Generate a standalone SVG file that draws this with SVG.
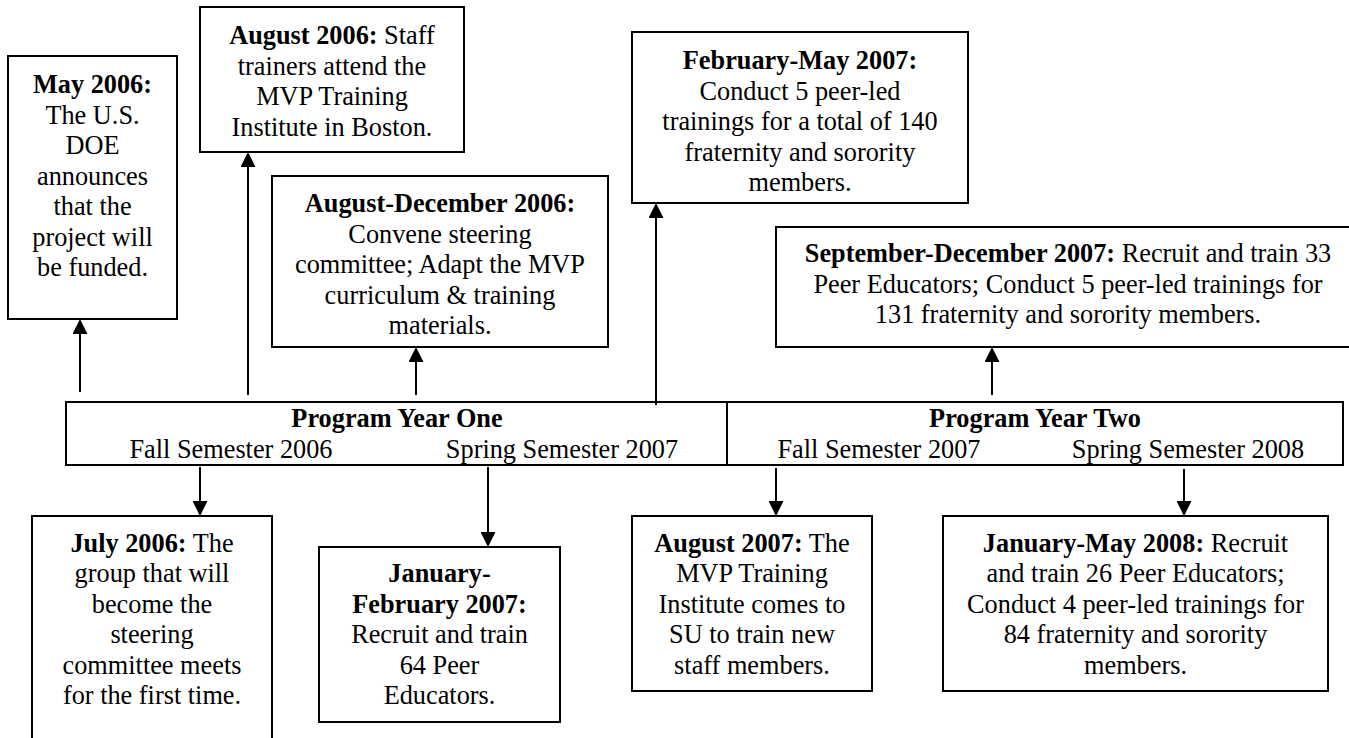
<svg xmlns="http://www.w3.org/2000/svg" width="1349" height="738" viewBox="0 0 1349 738">
  <style>
    .box { fill: #ffffff; stroke: #000000; stroke-width: 2; }
    .t { font-family: "Liberation Serif", "Times New Roman", serif; font-size: 26.3px; fill: #000000; text-anchor: middle; }
    .b { font-weight: bold; }
    .conn { stroke: #000000; stroke-width: 2; fill: none; }
  </style>
  <defs>
    <marker id="ah" markerUnits="userSpaceOnUse" markerWidth="15" markerHeight="15" viewBox="0 0 15 15" refX="1" refY="7.5" orient="auto">
      <path d="M0,0 L15,7.5 L0,15 Z" fill="#000000"/>
    </marker>
  </defs>
  <rect width="1349" height="738" fill="#ffffff"/>

  <g id="timeline">
    <rect class="box" x="66" y="402" width="1277" height="63"/>
    <line x1="727" y1="402" x2="727" y2="465" stroke="#000" stroke-width="2"/>
    <text class="t b" x="397" y="427">Program Year One</text>
    <text class="t" x="231" y="458">Fall Semester 2006</text>
    <text class="t" x="562" y="458">Spring Semester 2007</text>
    <text class="t b" x="1035" y="427">Program Year Two</text>
    <text class="t" x="879" y="458">Fall Semester 2007</text>
    <text class="t" x="1188" y="458">Spring Semester 2008</text>
  </g>

  <g id="may2006">
    <rect class="box" x="8" y="56" width="169" height="263"/>
    <text class="t" x="92.5"><tspan class="b" x="92.5" y="93">May 2006:</tspan><tspan x="92.5" y="123.5">The U.S.</tspan><tspan x="92.5" y="154">DOE</tspan><tspan x="92.5" y="184.5">announces</tspan><tspan x="92.5" y="215">that the</tspan><tspan x="92.5" y="245.5">project will</tspan><tspan x="92.5" y="276">be funded.</tspan></text>
  </g>

  <g id="aug2006">
    <rect class="box" x="200" y="7" width="264" height="145"/>
    <text class="t"><tspan x="332" y="44"><tspan class="b">August 2006:</tspan> Staff</tspan><tspan x="332" y="74.5">trainers attend the</tspan><tspan x="332" y="105">MVP Training</tspan><tspan x="332" y="135.5">Institute in Boston.</tspan></text>
  </g>

  <g id="augdec2006">
    <rect class="box" x="272" y="176" width="336" height="171"/>
    <text class="t"><tspan class="b" x="440" y="212">August-December 2006:</tspan><tspan x="440" y="242.5">Convene steering</tspan><tspan x="440" y="273">committee; Adapt the MVP</tspan><tspan x="440" y="303.5">curriculum &amp; training</tspan><tspan x="440" y="334">materials.</tspan></text>
  </g>

  <g id="febmay2007">
    <rect class="box" x="632" y="32" width="336" height="171"/>
    <text class="t"><tspan class="b" x="800" y="69">February-May 2007:</tspan><tspan x="800" y="99.5">Conduct 5 peer-led</tspan><tspan x="800" y="130">trainings for a total of 140</tspan><tspan x="800" y="160.5">fraternity and sorority</tspan><tspan x="800" y="191">members.</tspan></text>
  </g>

  <g id="sepdec2007">
    <rect class="box" x="776" y="227" width="590" height="120"/>
    <text class="t"><tspan x="1068" y="262"><tspan class="b">September-December 2007:</tspan> Recruit and train 33</tspan><tspan x="1068" y="292.5">Peer Educators; Conduct 5 peer-led trainings for</tspan><tspan x="1068" y="323">131 fraternity and sorority members.</tspan></text>
  </g>

  <g id="jul2006">
    <rect class="box" x="32" y="516" width="240" height="240"/>
    <text class="t"><tspan x="152" y="552"><tspan class="b">July 2006:</tspan> The</tspan><tspan x="152" y="582.4">group that will</tspan><tspan x="152" y="612.8">become the</tspan><tspan x="152" y="643.2">steering</tspan><tspan x="152" y="673.6">committee meets</tspan><tspan x="152" y="704">for the first time.</tspan></text>
  </g>

  <g id="janfeb2007">
    <rect class="box" x="319" y="547" width="241" height="175"/>
    <text class="t"><tspan class="b" x="439.5" y="582.4">January-</tspan><tspan class="b" x="439.5" y="612.8">February 2007:</tspan><tspan x="439.5" y="643.2">Recruit and train</tspan><tspan x="439.5" y="673.6">64 Peer</tspan><tspan x="439.5" y="704">Educators.</tspan></text>
  </g>

  <g id="aug2007">
    <rect class="box" x="632" y="516" width="240" height="175"/>
    <text class="t"><tspan x="752" y="552"><tspan class="b">August 2007:</tspan> The</tspan><tspan x="752" y="582.4">MVP Training</tspan><tspan x="752" y="612.8">Institute comes to</tspan><tspan x="752" y="643.2">SU to train new</tspan><tspan x="752" y="673.6">staff members.</tspan></text>
  </g>

  <g id="janmay2008">
    <rect class="box" x="943" y="516" width="385" height="175"/>
    <text class="t"><tspan x="1135.5" y="552"><tspan class="b">January-May 2008:</tspan> Recruit</tspan><tspan x="1135.5" y="582.4">and train 26 Peer Educators;</tspan><tspan x="1135.5" y="612.8">Conduct 4 peer-led trainings for</tspan><tspan x="1135.5" y="643.2">84 fraternity and sorority</tspan><tspan x="1135.5" y="673.6">members.</tspan></text>
  </g>

  <g id="connectors">
    <line class="conn" x1="80" y1="392" x2="80" y2="333" marker-end="url(#ah)"/>
    <line class="conn" x1="248" y1="395" x2="248" y2="166" marker-end="url(#ah)"/>
    <line class="conn" x1="416" y1="395" x2="416" y2="361" marker-end="url(#ah)"/>
    <line class="conn" x1="656" y1="405" x2="656" y2="217" marker-end="url(#ah)"/>
    <line class="conn" x1="992" y1="395" x2="992" y2="361" marker-end="url(#ah)"/>
    <line class="conn" x1="200" y1="467" x2="200" y2="502" marker-end="url(#ah)"/>
    <line class="conn" x1="488" y1="467" x2="488" y2="533" marker-end="url(#ah)"/>
    <line class="conn" x1="776" y1="468" x2="776" y2="502" marker-end="url(#ah)"/>
    <line class="conn" x1="1184" y1="469" x2="1184" y2="502" marker-end="url(#ah)"/>
  </g>
</svg>
